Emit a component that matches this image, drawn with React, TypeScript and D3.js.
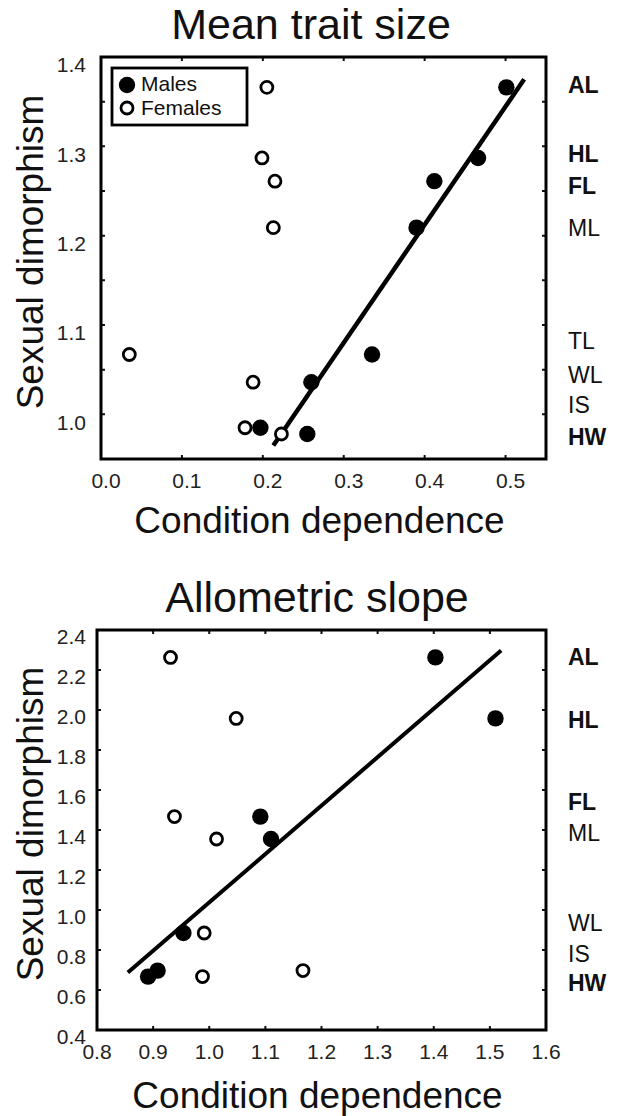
import React, { useEffect, useRef } from "react";
import * as d3 from "d3";

// panel 1: mean trait size
const traitsA = ["AL", "HL", "FL", "ML", "TL", "WL", "IS", "HW"];
const dimorphA = [1.366, 1.287, 1.261, 1.209, 1.067, 1.036, 0.985, 0.978];
const malesA = [0.501, 0.466, 0.412, 0.39, 0.335, 0.26, 0.197, 0.255];
const femalesA = [0.205, 0.199, 0.215, 0.213, 0.035, 0.188, 0.178, 0.223];
const labelYA = [1.369, 1.291, 1.256, 1.209, 1.082, 1.044, 1.011, 0.975];
const fitXA = [0.213, 0.523];
const fitYA = [0.965, 1.375];
const xTicksA = [0, 0.1, 0.2, 0.3, 0.4, 0.5];
const yTicksA = [1.0, 1.1, 1.2, 1.3, 1.4];
const yMinorA = [0.95, 1.0, 1.05, 1.1, 1.15, 1.2, 1.25, 1.3, 1.35];

// panel 2: allometric slope
const traitsB = ["AL", "HL", "FL", "ML", "WL", "IS", "HW"];
const dimorphB = [2.263, 1.958, 1.467, 1.355, 0.885, 0.697, 0.667];
const malesB = [1.403, 1.51, 1.091, 1.11, 0.954, 0.908, 0.891];
const femalesB = [0.931, 1.048, 0.938, 1.013, 0.991, 1.167, 0.988];
const labelYB = [2.263, 1.95, 1.541, 1.383, 0.933, 0.78, 0.633];
const fitXB = [0.855, 1.52];
const fitYB = [0.687, 2.297];
const xTicksB = [0.8, 0.9, 1.0, 1.1, 1.2, 1.3, 1.4, 1.5, 1.6];
const yTicksB = [0.4, 0.6, 0.8, 1.0, 1.2, 1.4, 1.6, 1.8, 2.0, 2.2, 2.4];

const boldTraits = ["AL", "HL", "FL", "HW"];
const FONT = "'Liberation Sans', Arial, Helvetica, sans-serif";

const drawPanel = (svg, cfg) => {
  const { left, right, top, bottom } = cfg;
  const x = d3.scaleLinear().domain(cfg.xDomain).range([left, right]);
  const y = d3.scaleLinear().domain(cfg.yDomain).range([bottom, top]);
  const g = svg.append("g").style("font-family", FONT);

  g.append("text")
    .attr("x", cfg.titleX)
    .attr("y", cfg.titleY)
    .attr("text-anchor", "middle")
    .attr("font-size", 43)
    .attr("fill", "#111")
    .text(cfg.title);

  // inward tick marks on all four sides
  const xMarks = cfg.xTicks;
  const yMarks = cfg.yMinor || cfg.yTicks;
  g.selectAll(".xm")
    .data(xMarks)
    .enter()
    .append("path")
    .attr("d", (d) => `M${x(d)},${bottom}v-4M${x(d)},${top}v4`)
    .attr("stroke", "#111")
    .attr("stroke-width", 2);
  g.selectAll(".ym")
    .data(yMarks)
    .enter()
    .append("path")
    .attr("d", (d) => `M${left},${y(d)}h4M${right},${y(d)}h-4`)
    .attr("stroke", "#111")
    .attr("stroke-width", 2);

  g.append("rect")
    .attr("x", left)
    .attr("y", top)
    .attr("width", right - left)
    .attr("height", bottom - top)
    .attr("fill", "none")
    .attr("stroke", "#000")
    .attr("stroke-width", 3);

  g.selectAll(".xl")
    .data(cfg.xTicks)
    .enter()
    .append("text")
    .attr("x", (d) => x(d) + cfg.xLabelDx)
    .attr("y", bottom + 22)
    .attr("dy", "0.35em")
    .attr("text-anchor", "middle")
    .attr("font-size", 21)
    .attr("fill", "#222")
    .text((d) => d3.format(".1f")(d));

  g.selectAll(".yl")
    .data(cfg.yTicks)
    .enter()
    .append("text")
    .attr("x", 86)
    .attr("y", (d) => y(d) + cfg.yLabelDy)
    .attr("dy", "0.35em")
    .attr("text-anchor", "end")
    .attr("font-size", 21)
    .attr("fill", "#222")
    .text((d) => d3.format(".1f")(d));

  g.append("text")
    .attr("x", (left + right) / 2 - 4)
    .attr("y", cfg.xTitleY)
    .attr("text-anchor", "middle")
    .attr("font-size", 37)
    .attr("fill", "#111")
    .text("Condition dependence");

  g.append("text")
    .attr("transform", `translate(43,${cfg.yTitleMid}) rotate(-90)`)
    .attr("text-anchor", "middle")
    .attr("font-size", 37)
    .attr("fill", "#111")
    .text("Sexual dimorphism");

  // regression line
  g.append("line")
    .attr("x1", x(cfg.fitX[0]))
    .attr("y1", y(cfg.fitY[0]))
    .attr("x2", x(cfg.fitX[1]))
    .attr("y2", y(cfg.fitY[1]))
    .attr("stroke", "#000")
    .attr("stroke-width", cfg.fitWidth);

  g.selectAll(".fem")
    .data(cfg.females)
    .enter()
    .append("circle")
    .attr("cx", (d) => x(d))
    .attr("cy", (d, i) => y(cfg.dimorph[i]))
    .attr("r", 6)
    .attr("fill", "#fff")
    .attr("stroke", "#000")
    .attr("stroke-width", 2.8);

  g.selectAll(".mal")
    .data(cfg.males)
    .enter()
    .append("circle")
    .attr("cx", (d) => x(d))
    .attr("cy", (d, i) => y(cfg.dimorph[i]))
    .attr("r", 8.2)
    .attr("fill", "#000");

  g.selectAll(".trait")
    .data(cfg.traits)
    .enter()
    .append("text")
    .attr("x", 568)
    .attr("y", (d, i) => y(cfg.labelY[i]))
    .attr("dy", "0.35em")
    .attr("font-size", 23)
    .attr("font-weight", (d) => (boldTraits.includes(d) ? "bold" : "normal"))
    .attr("fill", "#111")
    .text((d) => d);

  if (cfg.legend) {
    const lx = left + 11;
    const ly = top + 11;
    g.append("rect")
      .attr("x", lx)
      .attr("y", ly)
      .attr("width", 135)
      .attr("height", 57)
      .attr("fill", "#fff")
      .attr("stroke", "#000")
      .attr("stroke-width", 2.8);
    g.append("circle").attr("cx", lx + 15).attr("cy", ly + 17).attr("r", 8.2).attr("fill", "#000");
    g.append("circle")
      .attr("cx", lx + 15)
      .attr("cy", ly + 40)
      .attr("r", 6)
      .attr("fill", "#fff")
      .attr("stroke", "#000")
      .attr("stroke-width", 2.8);
    g.append("text")
      .attr("x", lx + 29)
      .attr("y", ly + 16)
      .attr("dy", "0.35em")
      .attr("font-size", 21)
      .attr("fill", "#111")
      .text("Males");
    g.append("text")
      .attr("x", lx + 29)
      .attr("y", ly + 40)
      .attr("dy", "0.35em")
      .attr("font-size", 21)
      .attr("fill", "#111")
      .text("Females");
  }
};

const App = () => {
  const ref = useRef(null);

  useEffect(() => {
    const svg = d3.select(ref.current);
    svg.selectAll("*").remove();

    drawPanel(svg, {
      title: "Mean trait size",
      titleX: 311,
      titleY: 39,
      left: 101,
      right: 546,
      top: 57,
      bottom: 459,
      xDomain: [0, 0.55],
      yDomain: [0.95, 1.4],
      xTicks: xTicksA,
      yTicks: yTicksA,
      yMinor: yMinorA,
      xLabelDx: 5,
      yLabelDy: 8,
      xTitleY: 533,
      yTitleMid: 252,
      traits: traitsA,
      dimorph: dimorphA,
      males: malesA,
      females: femalesA,
      labelY: labelYA,
      fitX: fitXA,
      fitY: fitYA,
      fitWidth: 4.5,
      legend: true,
    });

    drawPanel(svg, {
      title: "Allometric slope",
      titleX: 317,
      titleY: 612,
      left: 97,
      right: 546,
      top: 630,
      bottom: 1030,
      xDomain: [0.8, 1.6],
      yDomain: [0.4, 2.4],
      xTicks: xTicksB,
      yTicks: yTicksB,
      xLabelDx: 0,
      yLabelDy: 7,
      xTitleY: 1108,
      yTitleMid: 824,
      traits: traitsB,
      dimorph: dimorphB,
      males: malesB,
      females: femalesB,
      labelY: labelYB,
      fitX: fitXB,
      fitY: fitYB,
      fitWidth: 4,
      legend: false,
    });
  }, []);

  return (
    <svg
      ref={ref}
      width={620}
      height={1116}
      style={{ position: "absolute", left: 0, top: 0, background: "#fff" }}
    />
  );
};

export default App;
